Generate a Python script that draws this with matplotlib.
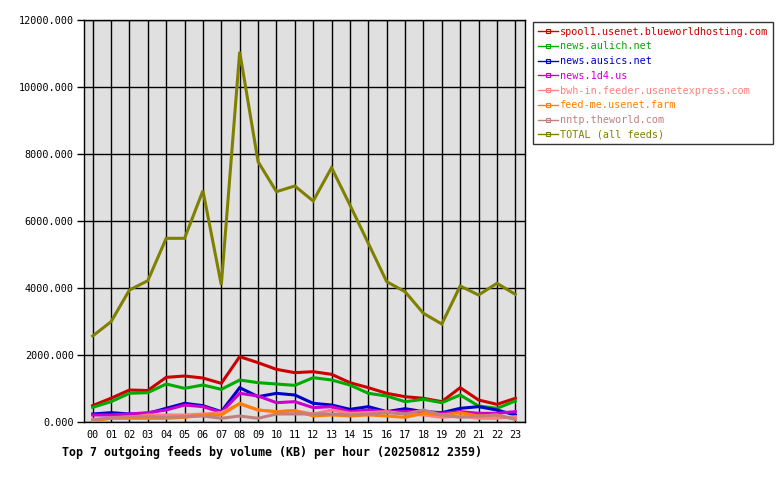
import matplotlib
matplotlib.use("Agg")
import matplotlib.pyplot as plt
from matplotlib.lines import Line2D

hours = [f"{h:02d}" for h in range(24)]

spool1 = [490, 710, 955, 940, 1333, 1373, 1313, 1154, 1950, 1771, 1572, 1473,
          1502, 1423, 1174, 1025, 856, 756, 707, 607, 1025, 657, 527, 707]
aulich = [438, 607, 856, 876, 1134, 1005, 1104, 975, 1254, 1174, 1134, 1094,
          1323, 1254, 1104, 856, 776, 607, 677, 577, 806, 478, 408, 627]
ausics = [239, 279, 239, 259, 408, 557, 488, 309, 1025, 756, 856, 806,
          557, 507, 378, 458, 309, 398, 309, 279, 408, 458, 358, 209]
news1d4 = [209, 209, 239, 279, 358, 507, 458, 289, 856, 776, 577, 607,
           428, 458, 309, 358, 309, 309, 309, 259, 309, 259, 259, 309]
bwh = [80, 110, 139, 209, 209, 209, 239, 279, 537, 358, 309, 338,
       239, 358, 259, 279, 309, 239, 209, 139, 179, 110, 110, 160]
feedme = [40, 110, 110, 110, 110, 139, 209, 209, 557, 358, 309, 338,
          179, 209, 179, 209, 179, 139, 259, 209, 279, 179, 209, 80]
theworld = [60, 129, 159, 159, 139, 159, 179, 110, 179, 110, 239, 239,
            239, 239, 209, 239, 279, 239, 358, 209, 139, 179, 209, 80]
total = [2567, 2995, 3940, 4218, 5483, 5483, 6905, 4090, 11054, 7771, 6876, 7045,
         6597, 7592, 6478, 5333, 4189, 3890, 3244, 2925, 4060, 3791, 4140, 3811]

names = ["spool1.usenet.blueworldhosting.com", "news.aulich.net", "news.ausics.net",
         "news.1d4.us", "bwh-in.feeder.usenetexpress.com", "feed-me.usenet.farm",
         "nntp.theworld.com", "TOTAL (all feeds)"]
series = [spool1, aulich, ausics, news1d4, bwh, feedme, theworld, total]
colors = ["#CC0000", "#00AA00", "#0000CC", "#CC00CC", "#FF8080", "#FF8000",
          "#C08080", "#808000"]
yticks = [0, 2000, 4000, 6000, 8000, 10000, 12000]

mono = "DejaVu Sans Mono"
fig = plt.figure(figsize=(7.8, 4.8), dpi=100)
fig.patch.set_facecolor("white")
ax = fig.add_axes([83.5/780, 58/480, 441/780, 402/480])
ax.set_facecolor("#E0E0E0")

x = list(range(24))
for s, c in zip(series, colors):
    ax.plot(x, s, color=c, lw=2.2, solid_joinstyle="miter", zorder=3)

ax.set_xlim(-0.5, 23.5)
ax.set_ylim(0, 12000)
ax.set_xticks(x)
ax.set_xticklabels(hours, fontfamily=mono, fontsize=7.3)
ax.set_yticks(yticks)
ax.set_yticklabels([f"{v}.000" for v in yticks], fontfamily=mono, fontsize=7.3)
ax.grid(True, color="black", lw=1.0, zorder=1)
ax.set_axisbelow(True)
ax.tick_params(axis="y", direction="out", length=5, width=1, pad=2)
ax.tick_params(axis="x", direction="out", length=0, pad=6)
for sp in ax.spines.values():
    sp.set_color("black")
    sp.set_linewidth(1.0)

handles = [Line2D([0], [0], color=c, lw=1.0, marker="s", markersize=3,
                  markerfacecolor="none", markeredgecolor=c, markeredgewidth=0.8)
           for c in colors]
leg = fig.legend(handles, names, loc="upper left",
                 bbox_to_anchor=(533/780, 1 - 22/480), frameon=True,
                 prop={"family": mono, "size": 7.3}, handlelength=2.0,
                 handletextpad=0.2, borderpad=0.45, labelspacing=0.47,
                 fancybox=False, borderaxespad=0)
leg.get_frame().set_edgecolor("black")
leg.get_frame().set_linewidth(1.0)
for t, c in zip(leg.get_texts(), colors):
    t.set_color(c)

fig.text(62/780, 1 - 452/480, "Top 7 outgoing feeds by volume (KB) per hour (20250812 2359)",
         fontfamily=mono, fontweight="bold", fontsize=8.35, ha="left", va="center")

fig.savefig("out.png", dpi=100)
